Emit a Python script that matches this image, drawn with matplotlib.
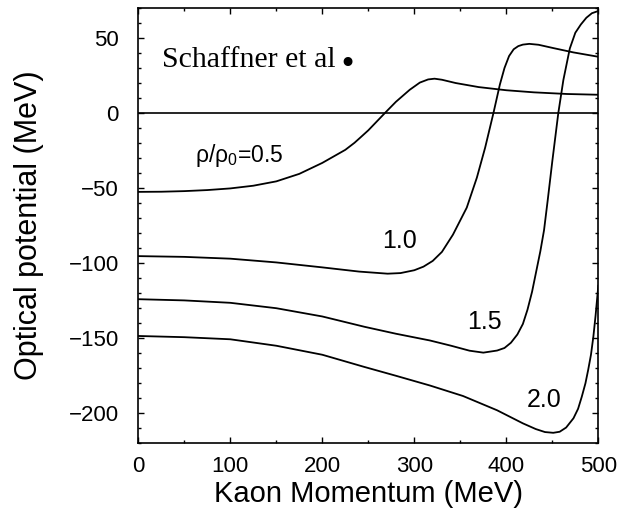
import matplotlib
matplotlib.use("Agg")
import matplotlib.pyplot as plt
from matplotlib.ticker import MultipleLocator

plt.rcParams["font.family"] = ["Liberation Sans", "DejaVu Sans"]
plt.rcParams["mathtext.fontset"] = "custom"
plt.rcParams["mathtext.rm"] = "Liberation Sans"

# Kaon optical potential vs. momentum for several densities rho/rho0
p_05 = [0, 25, 50, 75, 100, 125, 150, 175, 200, 225, 235, 241, 250, 268, 280, 295, 306,
        315, 322, 330, 345, 370, 400, 430, 466, 500]
u_05 = [-52.5, -52.4, -52.0, -51.3, -50.2, -48.4, -45.5, -40.5, -33.2, -24.5, -19.8,
        -16.5, -11.5, 0.0, 7.5, 15.5, 20.3, 22.4, 22.9, 22.2, 20.0, 17.3, 15.2, 13.8,
        12.7, 12.2]

p_10 = [0, 50, 100, 150, 200, 240, 271, 285, 300, 310, 320, 330, 342, 357, 368, 377,
        386, 393, 398, 403, 408, 413, 418, 425, 435, 451, 473, 500]
u_10 = [-95.3, -95.8, -97.0, -99.5, -102.8, -105.6, -107.0, -106.6, -104.7, -102.3,
        -98.5, -92.5, -81.0, -63.0, -43.0, -23.0, 0.0, 19.0, 30.0, 38.0, 42.5, 44.6,
        45.6, 46.1, 45.5, 43.3, 40.4, 37.5]

p_15 = [0, 50, 100, 150, 200, 246, 280, 317, 340, 360, 375, 390, 398, 405, 412, 418,
        423, 428, 433, 437, 441, 445, 450, 456.5, 462, 469, 475, 481, 487, 493, 500]
u_15 = [-124.0, -124.8, -126.4, -130.0, -135.5, -142.4, -147.0, -151.5, -155.0, -158.3,
        -159.6, -158.2, -156.5, -153.0, -147.5, -140.5, -131.0, -119.0, -104.0, -92.0,
        -78.0, -58.0, -32.0, 0.0, 22.0, 43.0, 53.5, 59.0, 63.5, 66.5, 68.0]

p_20 = [0, 50, 100, 150, 200, 245, 280, 317, 353, 390, 418, 432, 442, 451, 458, 465,
        473, 478, 482, 486, 489, 492, 494.6, 497, 500]
u_20 = [-148.5, -149.3, -150.7, -155.0, -161.0, -169.0, -175.0, -181.5, -188.5, -198.0,
        -206.7, -210.5, -212.5, -213.0, -212.3, -209.5, -203.3, -197.0, -189.0, -180.0,
        -171.0, -161.0, -149.0, -135.0, -115.0]

curves = [(p_05, u_05), (p_10, u_10), (p_15, u_15), (p_20, u_20)]

fig = plt.figure(figsize=(6.19, 5.15), dpi=100)
ax = fig.add_axes([0.2234, 0.1392, 0.7432, 0.8453])

for p, u in curves:
    ax.plot(p, u, color="black", lw=1.3, solid_joinstyle="round")

ax.axhline(0, color="black", lw=1.2)

ax.set_xlim(0, 500)
ax.set_ylim(-220, 70)

ax.xaxis.set_major_locator(MultipleLocator(100))
ax.xaxis.set_minor_locator(MultipleLocator(50))
ax.yaxis.set_major_locator(MultipleLocator(50))
ax.yaxis.set_minor_locator(MultipleLocator(10))

ax.tick_params(which="both", direction="in", top=True, right=True, width=1.0)
ax.tick_params(which="major", length=4.3)
ax.tick_params(which="minor", length=2.4)
ax.tick_params(axis="x", which="major", labelsize=16, pad=9)
ax.tick_params(axis="y", which="major", labelsize=16, pad=14)
for s in ax.spines.values():
    s.set_linewidth(1.2)

ax.set_xlabel("Kaon Momentum (MeV)", fontsize=21, labelpad=2)
ax.set_ylabel("Optical potential (MeV)", fontsize=22, labelpad=18)

ax.text(26, 31, "Schaffner et al", family=["Liberation Serif"], fontsize=21.5,
        va="baseline", ha="left")
ax.text(227, 32.3, "\u2022", fontsize=22, va="center", ha="center",
        family=["DejaVu Sans"])

ax.text(61.6, -32.3, r"ρ/ρ$_\mathregular{0}$=0.5", fontsize=16.5, va="baseline", ha="left")
ax.text(265, -89.8, "1.0", fontsize=18, va="baseline", ha="left")
ax.text(357, -144, "1.5", fontsize=18, va="baseline", ha="left")
ax.text(422, -195.6, "2.0", fontsize=18, va="baseline", ha="left")

fig.savefig("out.png", dpi=100)
